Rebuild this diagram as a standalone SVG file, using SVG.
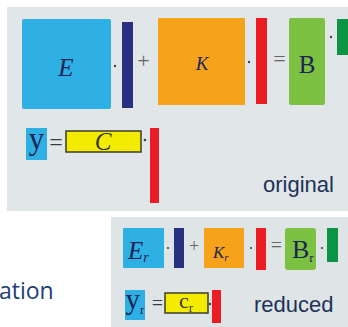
<svg xmlns="http://www.w3.org/2000/svg" width="348" height="327" viewBox="0 0 348 327">
  <style>
    .panel { fill: #e1e6e9; }
    .blue { fill: #2eb0e4; }
    .navy { fill: #2a3080; }
    .orange { fill: #f6a31b; }
    .red { fill: #ec1c24; }
    .green { fill: #7cc142; }
    .dgreen { fill: #0b9444; }
    .yellow { fill: #f4ec00; stroke: #3d3d2a; stroke-width: 1.5; }
    .dot { fill: #444; }
    .sym { fill: #666; text-anchor: middle; }
    .eq2 { fill: #3c3c3c; text-anchor: middle; }
    .var { fill: #1b2555; }
    .it { font-style: italic; }
    .label { font-family: 'Liberation Sans', Arial, sans-serif; font-size: 22px; fill: #1d3257; }
  </style>

  <rect width="348" height="327" fill="#ffffff"/>

  <!-- full-order system -->
  <g id="original" font-family="Liberation Serif, DejaVu Serif, serif">
    <rect class="panel" x="7" y="7" width="341" height="204"/>

    <g id="E">
      <rect class="blue" x="22" y="19" width="89" height="90" rx="2"/>
      <text class="var it" x="66" y="76" font-size="25" text-anchor="middle">E</text>
    </g>
    <circle class="dot" cx="115" cy="66" r="1.2"/>
    <rect id="xddot" class="navy" x="122" y="22" width="11" height="86"/>
    <text class="sym" x="143.5" y="68" font-size="22">+</text>

    <g id="K">
      <rect class="orange" x="158" y="18" width="87" height="87"/>
      <text class="var it" x="202" y="70" font-size="19" text-anchor="middle">K</text>
    </g>
    <circle class="dot" cx="249" cy="62" r="1.2"/>
    <rect id="x" class="red" x="256" y="18" width="11" height="86"/>
    <text class="sym" x="279.5" y="66" font-size="22">=</text>

    <g id="B">
      <rect class="green" x="289" y="18" width="36" height="87" rx="2"/>
      <text class="var" x="307" y="73" font-size="25" text-anchor="middle">B</text>
    </g>
    <circle class="dot" cx="331" cy="37" r="1.2"/>
    <rect id="u" class="dgreen" x="337" y="19" width="11" height="36"/>

    <g id="y">
      <rect class="blue" x="26" y="128" width="21" height="32"/>
      <text class="var" x="36.5" y="148.5" font-size="31" text-anchor="middle">y</text>
    </g>
    <text class="eq2" x="56" y="149.5" font-size="24">=</text>

    <g id="C">
      <rect class="yellow" x="66" y="131" width="75" height="21"/>
      <text class="it" x="103" y="150" font-size="25" text-anchor="middle" fill="#3a3a28">C</text>
    </g>
    <circle class="dot" cx="145" cy="140" r="1.3"/>
    <rect id="x2" class="red" x="150" y="128" width="9" height="75"/>

    <text class="label" x="263" y="192">original</text>
  </g>

  <text x="-1" y="299" font-family="Open Sans, sans-serif" font-size="23" fill="#203f74">ation</text>

  <!-- reduced-order system -->
  <g id="reduced" font-family="Liberation Serif, DejaVu Serif, serif">
    <rect x="111" y="217" width="237" height="110" fill="#dfe4e7"/>

    <g id="Er">
      <rect class="blue" x="123" y="228" width="41" height="40" rx="1"/>
      <text class="var it" x="128" y="259" font-size="25">E<tspan font-size="14" dy="3">r</tspan></text>
    </g>
    <circle class="dot" cx="168" cy="248" r="1.1"/>
    <rect class="navy" x="174" y="228" width="10" height="40"/>
    <text class="sym" x="194" y="252" font-size="18">+</text>

    <g id="Kr">
      <rect class="orange" x="204" y="228" width="40" height="40"/>
      <text class="var it" x="213" y="258" font-size="17">K<tspan font-size="11" dy="3">r</tspan></text>
    </g>
    <circle class="dot" cx="251" cy="248" r="1.1"/>
    <rect class="red" x="256" y="228" width="10" height="42"/>
    <text class="sym" x="276.5" y="252" font-size="20">=</text>

    <g id="Br">
      <rect class="green" x="285" y="228" width="31" height="42" rx="3"/>
      <text class="var" x="292" y="258" font-size="26">B<tspan font-size="13" dy="4">r</tspan></text>
    </g>
    <circle class="dot" cx="322" cy="248" r="1.1"/>
    <rect class="dgreen" x="327" y="228" width="11" height="34"/>

    <g id="yr">
      <rect class="blue" x="125" y="290" width="20" height="30"/>
      <text class="var" x="125.5" y="308.5" font-size="29">y<tspan font-size="13" dy="5">r</tspan></text>
    </g>
    <text class="eq2" x="157.5" y="310" font-size="20">=</text>

    <g id="Cr">
      <rect class="yellow" x="165" y="293" width="43" height="20"/>
      <text x="179" y="308" font-size="22" fill="#3a3a28">c<tspan font-size="13" dy="4">r</tspan></text>
    </g>
    <circle class="dot" cx="210" cy="304" r="1.3"/>
    <rect class="red" x="212" y="290" width="9" height="33"/>

    <text class="label" x="254" y="312">reduced</text>
  </g>
</svg>
